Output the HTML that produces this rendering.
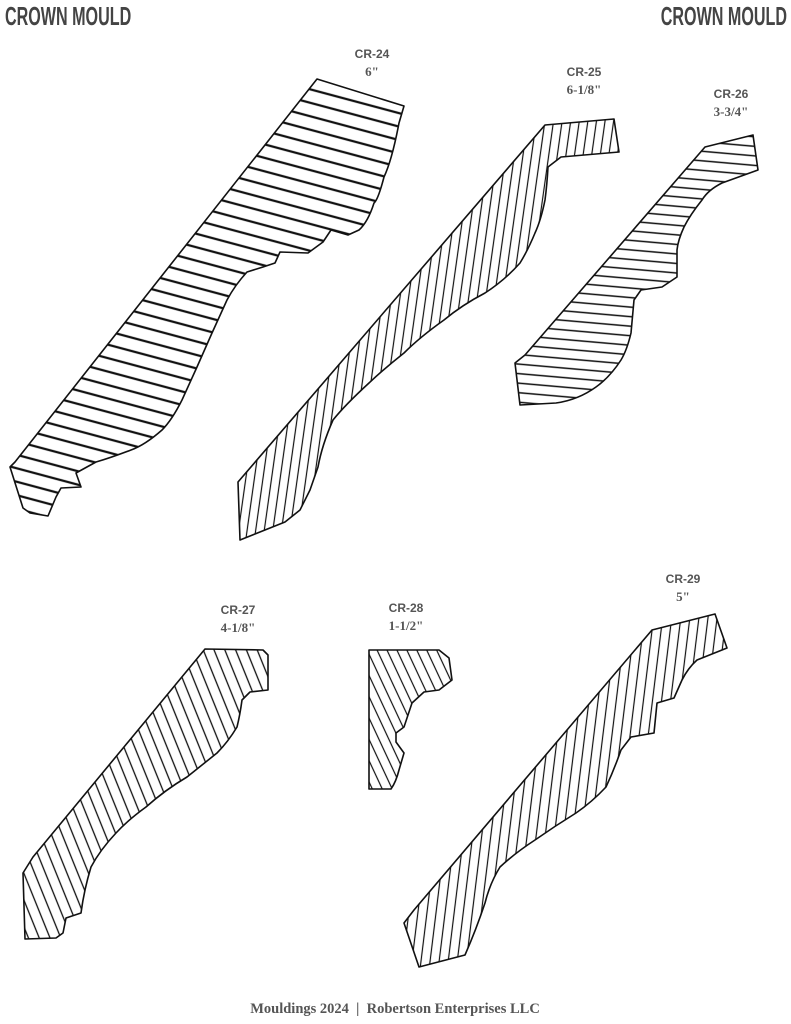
<!DOCTYPE html>
<html><head><meta charset="utf-8"><style>
html,body{margin:0;padding:0;background:#fff;}
body{width:791px;height:1024px;overflow:hidden;position:relative;}
</style></head><body>
<svg width="791" height="1024" viewBox="0 0 791 1024" xmlns="http://www.w3.org/2000/svg" style="position:absolute;left:0;top:0">
<defs>
<pattern id="p24" patternUnits="userSpaceOnUse" width="40" height="13" patternTransform="rotate(15)"><line x1="0" y1="6" x2="40" y2="6" stroke="#111" stroke-width="2.2"/></pattern>
<pattern id="p25" patternUnits="userSpaceOnUse" width="8.5" height="40" patternTransform="rotate(8)"><line x1="4" y1="0" x2="4" y2="40" stroke="#111" stroke-width="1.2"/></pattern>
<pattern id="p26" patternUnits="userSpaceOnUse" width="40" height="9.5" patternTransform="rotate(5)"><line x1="0" y1="4" x2="40" y2="4" stroke="#111" stroke-width="1.4"/></pattern>
<pattern id="p27" patternUnits="userSpaceOnUse" width="10" height="40" patternTransform="rotate(-22)"><line x1="5" y1="0" x2="5" y2="40" stroke="#111" stroke-width="1.3"/></pattern>
<pattern id="p28" patternUnits="userSpaceOnUse" width="9" height="40" patternTransform="rotate(-25)"><line x1="4" y1="0" x2="4" y2="40" stroke="#111" stroke-width="1.2"/></pattern>
<pattern id="p29" patternUnits="userSpaceOnUse" width="9" height="40" patternTransform="rotate(7)"><line x1="4" y1="0" x2="4" y2="40" stroke="#111" stroke-width="1.2"/></pattern>
</defs>
<g stroke="#111" stroke-width="1.6" stroke-linejoin="round">
<path fill="url(#p24)" d="M317,79 L404,106 L399,123 Q392,160 384,177 Q378,200 374,203 Q368,222 359,230 L348,235 L331,230 L323,242 L308,253 L280,252 L275,263 L263,267 L247,272 Q235,285 227,300 L212,333 L197,367 L182,400 Q172,420 162,430 Q145,445 131,450 Q110,458 96,462 L76,473 L81,487 L61,488 L56,497 L48,516 L30,513 L23,508 L10,467 L15,462 Z"/>
<path fill="url(#p25)" d="M545,125 L614,119 L619,152 L561,157 L548,167 Q547,185 545,200 Q541,220 535,233 Q528,250 520,263 Q505,280 485,293 Q462,305 444,320 Q420,337 404,353 Q385,368 369,383 Q345,405 333,420 Q322,445 318,467 L310,490 L300,510 L285,522 L240,540 L238,482 Z"/>
<path fill="url(#p26)" d="M705,147 L753,135 L758,170 L722,183 Q708,190 702,200 Q690,215 684,227 Q678,240 677,250 L677,277 L662,287 L641,290 L634,300 L631,333 Q627,350 621,360 Q610,377 596,387 Q578,400 556,403 L520,405 L515,363 L525,355 Z"/>
<path fill="url(#p27)" d="M205,649 L263,650 L268,655 L268,690 L250,692 L242,700 Q240,715 237,727 Q228,742 217,753 Q202,765 187,777 Q165,790 146,807 Q128,820 116,833 Q100,850 91,867 Q84,890 81,913 L66,918 L63,933 L56,938 L25,939 L23,873 L33,857 Z"/>
<path fill="url(#p28)" d="M369,650 L439,650 L449,658 L452,680 L439,690 L424,692 L412,703 L404,727 L396,733 L396,742 L404,753 L399,770 Q396,782 391,789 L369,789 Z"/>
<path fill="url(#p29)" d="M652,630 L715,614 L727,648 L697,660 Q688,668 682,680 L674,698 L657,703 L654,733 L631,737 L621,750 Q614,770 606,787 Q592,802 576,813 Q555,826 535,840 Q515,853 500,867 Q490,883 485,903 Q476,930 465,955 L419,967 L404,923 L414,910 Z"/>
</g>
<g font-family="'Liberation Sans Narrow','Liberation Sans',sans-serif" font-weight="bold" fill="#444">
<text x="0" y="0" font-size="26" transform="translate(5,25) scale(0.62,1)">CROWN MOULD</text>
<text x="0" y="0" font-size="26" text-anchor="end" transform="translate(787,25) scale(0.62,1)">CROWN MOULD</text>
</g>
<g font-family="'Liberation Sans',sans-serif" font-weight="bold" fill="#555" font-size="12" text-anchor="middle">
<text x="372" y="58">CR-24</text><text x="584" y="76">CR-25</text><text x="731" y="98">CR-26</text>
<text x="238" y="614">CR-27</text><text x="406" y="612">CR-28</text><text x="683" y="583">CR-29</text>
</g>
<g font-family="'Liberation Serif',serif" font-weight="bold" fill="#555" font-size="13" text-anchor="middle">
<text x="372" y="76">6"</text><text x="584" y="94">6-1/8"</text><text x="731" y="116">3-3/4"</text>
<text x="238" y="632">4-1/8"</text><text x="406" y="630">1-1/2"</text><text x="683" y="601">5"</text>
<text x="395" y="1013" font-size="14.5" xml:space="preserve">Mouldings 2024  |  Robertson Enterprises LLC</text>
</g>
</svg>
</body></html>
